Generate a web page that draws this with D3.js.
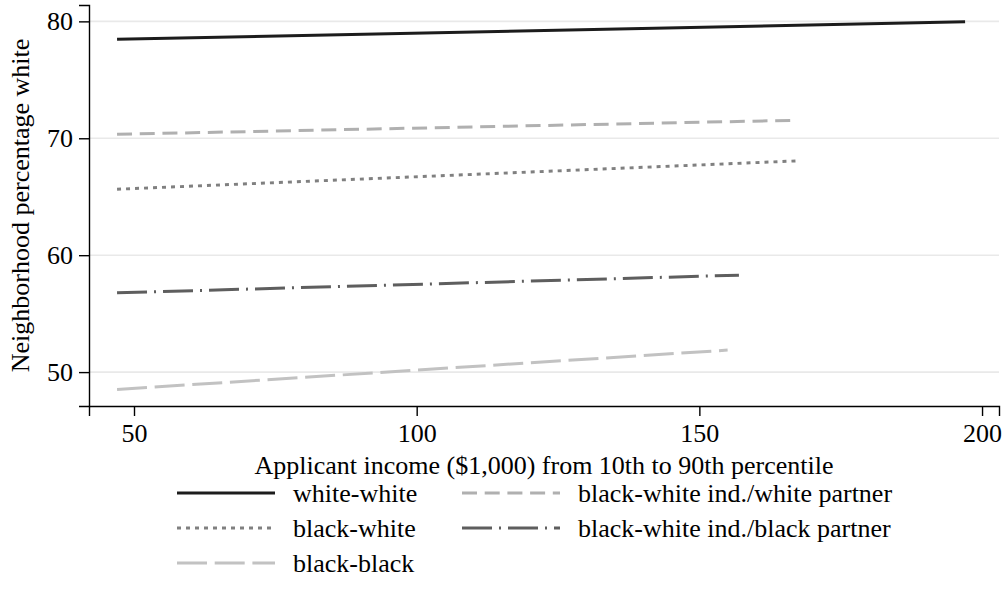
<!DOCTYPE html>
<html>
<head>
<meta charset="utf-8">
<script src="https://cdn.jsdelivr.net/npm/d3@7"></script>
</head>
<body style="margin:0;background:#fff">
<svg id="chart" width="1007" height="610" style="display:block"></svg>
<script>
// Predicted neighborhood percentage white at the 10th and 90th income percentiles
const seriesNames = [
  "white-white",
  "black-white ind./white partner",
  "black-white",
  "black-white ind./black partner",
  "black-black"
];
const incomeStart = [47, 47, 47, 47, 47];
const incomeEnd   = [197, 167, 167, 157, 155];
const pctStart    = [78.46, 70.34, 65.64, 56.78, 48.52];
const pctEnd      = [79.96, 71.54, 68.06, 58.29, 51.88];

const xTicks = [50, 100, 150, 200];
const yTicks = [50, 60, 70, 80];

// Line styling per series
const styles = {
  "white-white":                    { color: "#1c1c1c", dash: null },
  "black-white ind./white partner": { color: "#b0b0b0", dash: "15,7.7" },
  "black-white":                    { color: "#808080", dash: "4,5" },
  "black-white ind./black partner": { color: "#5e5e5e", dash: "30,7,2,7" },
  "black-black":                    { color: "#c2c2c2", dash: "30,7.7" }
};

const FONT = "Liberation Serif";
const fontSize = 26;

const series = seriesNames.map((name, i) => ({
  name,
  points: [[incomeStart[i], pctStart[i]], [incomeEnd[i], pctEnd[i]]]
}));

const svg = d3.select("#chart");
const plotLeft = 89, plotRight = 999, plotTop = 5, plotBottom = 406;

const x = d3.scaleLinear().domain([42.04, 203.0]).range([plotLeft, plotRight]);
const y = d3.scaleLinear().domain([47.1, 81.4]).range([plotBottom, plotTop]);

// Horizontal gridlines
svg.append("g")
  .selectAll("line")
  .data(yTicks)
  .join("line")
  .attr("x1", plotLeft).attr("x2", plotRight)
  .attr("y1", d => y(d)).attr("y2", d => y(d))
  .attr("stroke", "#e9e9e9")
  .attr("stroke-width", 1.6);

// Series lines
const line = d3.line().x(d => x(d[0])).y(d => y(d[1]));
svg.append("g")
  .selectAll("path")
  .data(series)
  .join("path")
  .attr("d", d => line(d.points))
  .attr("fill", "none")
  .attr("stroke", d => styles[d.name].color)
  .attr("stroke-width", 3)
  .attr("stroke-dasharray", d => styles[d.name].dash);

// Axes
const xAxis = svg.append("g")
  .attr("transform", `translate(0,${plotBottom})`)
  .call(d3.axisBottom(x).tickValues(xTicks).tickSizeOuter(0).tickSize(10).tickPadding(8));
const yAxis = svg.append("g")
  .attr("transform", `translate(${plotLeft},0)`)
  .call(d3.axisLeft(y).tickValues(yTicks).tickSizeOuter(0).tickSize(10).tickPadding(6));

[xAxis, yAxis].forEach(g => {
  g.attr("font-family", FONT).attr("font-size", fontSize);
  g.select(".domain").attr("stroke", "#000").attr("stroke-width", 1.4);
  g.selectAll(".tick line").attr("stroke", "#000").attr("stroke-width", 1.4);
  g.selectAll(".tick text").attr("fill", "#000").attr("font-family", FONT);
});

// Axis titles
svg.append("text")
  .attr("x", (plotLeft + plotRight) / 2)
  .attr("y", 474)
  .attr("text-anchor", "middle")
  .attr("font-family", FONT)
  .attr("font-size", fontSize)
  .text("Applicant income ($1,000) from 10th to 90th percentile");

svg.append("text")
  .attr("transform", `translate(29,${(plotTop + plotBottom) / 2}) rotate(-90)`)
  .attr("text-anchor", "middle")
  .attr("font-family", FONT)
  .attr("font-size", fontSize)
  .text("Neighborhood percentage white");

// Legend: two columns, filled row by row
const legendOrder = [
  "white-white", "black-white ind./white partner",
  "black-white", "black-white ind./black partner",
  "black-black"
];
const colX = [177, 462];
const rowY = [493, 528, 563];
const legend = svg.append("g");
legendOrder.forEach((name, i) => {
  const cx = colX[i % 2], cy = rowY[Math.floor(i / 2)];
  legend.append("line")
    .attr("x1", cx).attr("x2", cx + 98)
    .attr("y1", cy).attr("y2", cy)
    .attr("stroke", styles[name].color)
    .attr("stroke-width", 3)
    .attr("stroke-dasharray", styles[name].dash);
  legend.append("text")
    .attr("x", cx + 116)
    .attr("y", cy + 9)
    .attr("font-family", FONT)
    .attr("font-size", fontSize)
    .text(name);
});
</script>
</body>
</html>
